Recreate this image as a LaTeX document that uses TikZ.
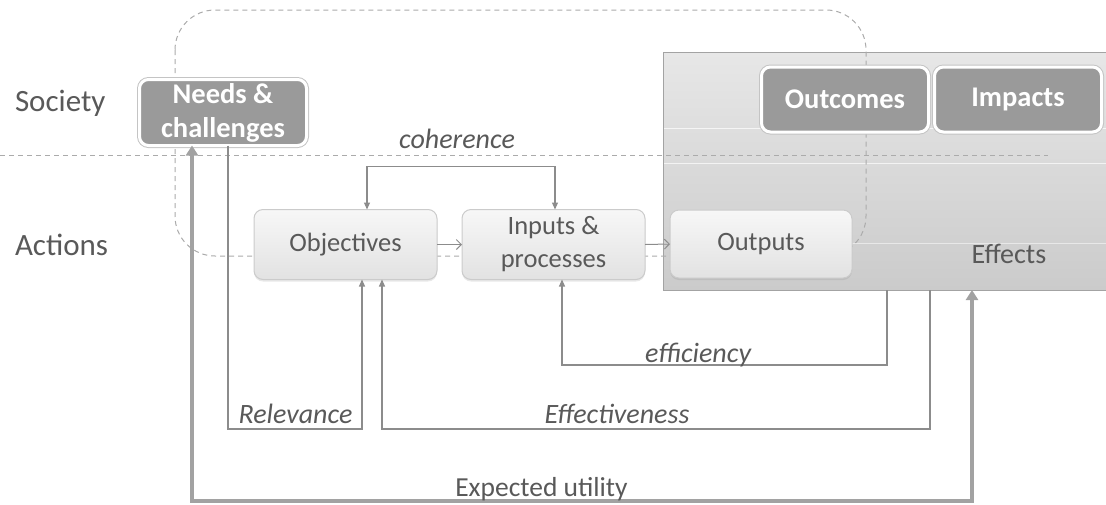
\documentclass[tikz,border=0pt]{standalone}
\usepackage{fontspec}
\setmainfont{Carlito}
\usetikzlibrary{arrows.meta,shadows}
\definecolor{txt}{HTML}{595959}
\definecolor{ln}{HTML}{8C8C8C}
\definecolor{dk}{HTML}{9A9A9A}
\definecolor{rim}{HTML}{C4C4C4}
\definecolor{dsh}{HTML}{ABABAB}
\definecolor{boxln}{HTML}{CBCBCB}
\definecolor{boxtop}{HTML}{F7F7F7}
\definecolor{boxbot}{HTML}{E2E2E2}
\definecolor{efftop}{HTML}{E7E7E7}
\definecolor{effbot}{HTML}{CBCBCB}
\definecolor{effln}{HTML}{A3A3A3}
\definecolor{thickln}{HTML}{A2A2A2}
\begin{document}
\begin{tikzpicture}[x=1pt,y=-1pt,
  every node/.style={inner sep=0pt, outer sep=0pt, text=txt},
  lightbox/.style={rounded corners=9pt, draw=boxln, line width=1pt,
    top color=boxtop, bottom color=boxbot,
    minimum width=183pt, minimum height=70pt, align=center,
    font=\fontsize{26.5}{33}\selectfont,
    drop shadow={opacity=0.18, shadow xshift=0pt, shadow yshift=-2pt}},
  darkbox/.style={rounded corners=9pt, fill=dk, draw=white, line width=3pt,
    text=white, align=center, font=\bfseries\fontsize{28.5}{34}\selectfont,
    preaction={draw=rim, line width=5pt}},
  effbox/.style={draw=effln, line width=1pt, top color=efftop, bottom color=effbot,
    minimum width=447pt, minimum height=238pt},
  dashbox/.style={draw=dsh, line width=1pt, dash pattern=on 5pt off 4pt},
  conn/.style={draw=ln, line width=1.2pt},
  tip/.style={-{Triangle[length=7pt,width=6pt]}},
  tips/.style={{Triangle[length=7pt,width=6pt]}-{Triangle[length=7pt,width=6pt]}},
  barb/.style={-{Straight Barb[length=5pt,width=10pt]}},
  thickarrow/.style={draw=thickln, line width=4pt,
    {Triangle[length=10pt,width=12pt]}-{Triangle[length=10pt,width=12pt]}},
  lab/.style={font=\itshape\fontsize{28}{33}\selectfont, text=txt, anchor=base},
  side/.style={font=\fontsize{31}{36}\selectfont, anchor=base west}]

\useasboundingbox (0,0) rectangle (1106,504);

% effects panel with its soft horizontal highlights
\node[effbox] (effects) at (886.5,171) {};
\draw[white, line width=1pt, opacity=0.7] (664,128) -- (1106,128);
\draw[white, line width=1pt, opacity=0.7] (664,163) -- (1106,163);
\draw[white, line width=1pt, opacity=0.5] (664,243) -- (1106,243);
\node[font=\fontsize{28}{33}\selectfont, anchor=base] (efftext) at (1009,263) {Effects};

% intervention boundary and society / action divide
\draw[dashbox, rounded corners=40pt] (175,10) rectangle (866,256);
\draw[dashbox] (0,155) -- (1048,155);

% level labels
\node[side] (society) at (15,111) {Society};
\node[side] (actions) at (15,255) {Actions};

% society-level boxes
\node[darkbox, minimum width=167pt, minimum height=66pt] (needs) at (223,112.5) {Needs \&\\challenges};
\node[darkbox, minimum width=167pt, minimum height=65pt] (outcomes) at (845,99.5) {Outcomes};
\node[darkbox, minimum width=167pt, minimum height=65pt] (impacts) at (1018,99.5) {Impacts};

% action-level boxes
\node[lightbox] (obj) at (345.5,244.5) {Objectives};
\node[lightbox] (inp) at (553.5,244.5) {Inputs \&\\processes};
\node[lightbox, minimum width=182pt, minimum height=68pt] (out) at (761,244) {Outputs};

% flow along the action chain
\draw[conn, line width=1pt, barb] (obj.east) -- (inp.west);
\draw[conn, line width=1pt, barb] (inp.east) -- (out.west);

% evaluation criteria
\draw[conn, tips] ([xshift=21.5pt]obj.north) -- ++(0,-43) -| ([xshift=1.5pt]inp.north);
\node[lab] (coh) at (457,148) {coherence};

\draw[conn, tip] ([xshift=0.5pt]effects.south) -- ++(0,75) -| ([xshift=8.5pt]inp.south);
\node[lab] (effi) at (698,362) {efficiency};

\draw[conn, tip] ([xshift=43.5pt]effects.south) -- ++(0,139) -| ([xshift=36.5pt]obj.south);
\node[lab] (effe) at (617,423) {Effectiveness};

\draw[conn, tip] ([xshift=5pt]needs.south) -- ++(0,283.5) -| ([xshift=16.5pt]obj.south);
\node[lab] (rel) at (295.5,423) {Relevance};

\draw[thickarrow] ([xshift=-31pt]needs.south) -- ++(0,355) -| ([xshift=85.5pt]effects.south);
\node[font=\fontsize{27.5}{32}\selectfont, anchor=base] (util) at (541.5,496) {Expected utility};

\end{tikzpicture}
\end{document}
